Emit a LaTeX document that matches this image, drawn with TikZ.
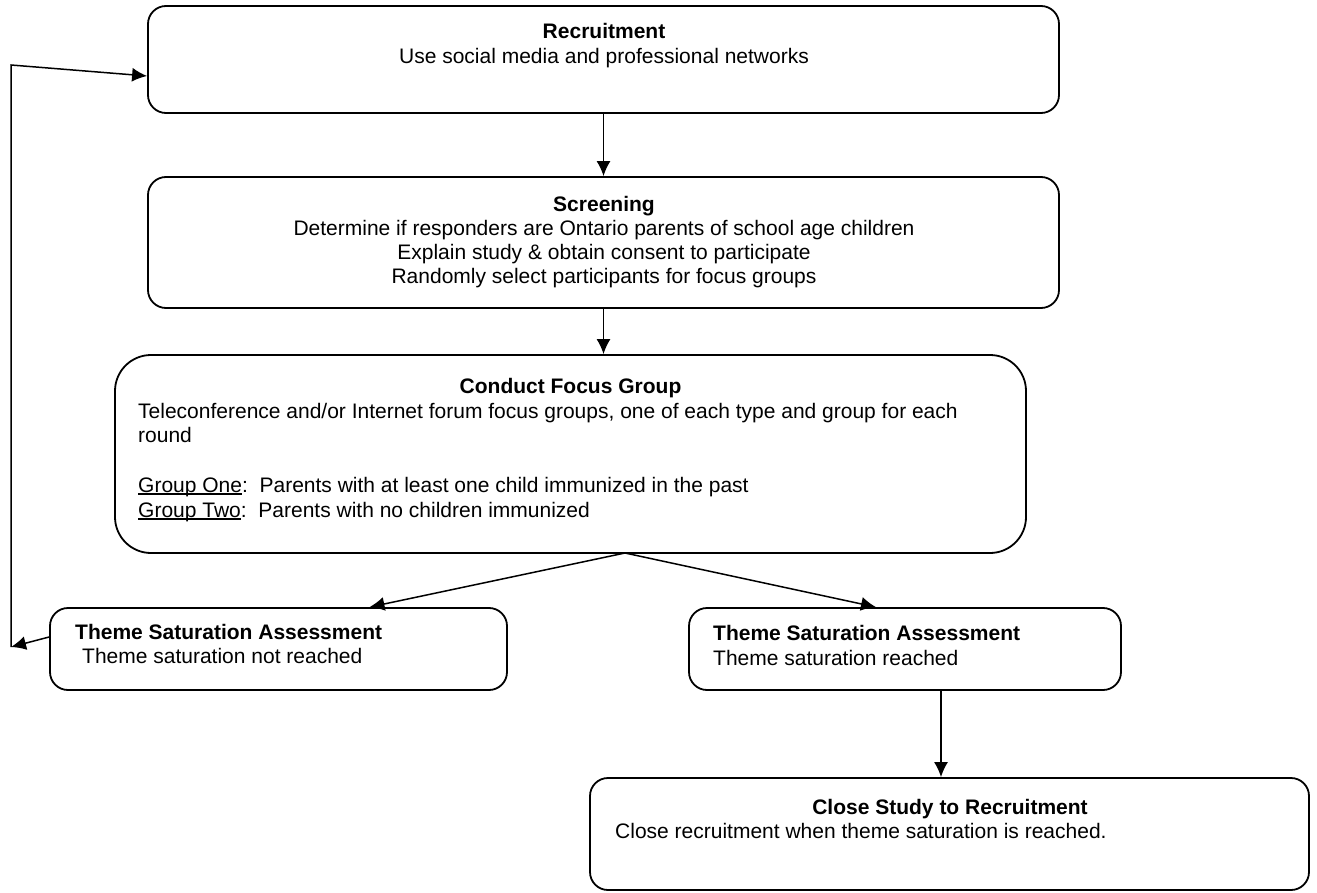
\documentclass[tikz,border=0pt]{standalone}
\usepackage{fontspec}
\setmainfont{Liberation Sans}
\usetikzlibrary{arrows.meta, positioning}

\newcommand{\grpline}[1]{\setbox0\hbox{#1}\rlap{\rule[-2.5pt]{\wd0}{1.2pt}}\box0}

\tikzset{
    box/.style={draw, line width=1.8pt, rounded corners=18pt, inner sep=0pt},
    txt/.style={inner sep=0pt, font=\fontsize{21pt}{24pt}\selectfont},
    hd/.style={inner sep=0pt, font=\fontsize{21pt}{24pt}\selectfont\bfseries},
    conn/.style={->, line width=1.5pt}
}

\begin{document}
\begin{tikzpicture}[x=1pt, y=-1pt, >={Latex[length=15pt,width=14pt]}]
    \useasboundingbox (0,0) rectangle (1317,893);

    % 1. Khung
    \node[box, minimum width=911pt, minimum height=107pt] (rec) at (603.5,59.5) {};
    \node[box, minimum width=911pt, minimum height=131pt] (scr) at (603.5,242.5) {};
    \node[box, rounded corners=36pt, minimum width=911pt, minimum height=198pt] (foc) at (570.5,454) {};
    \node[box, minimum width=457pt, minimum height=82pt] (tsaL) at (278.5,649) {};
    \node[box, minimum width=432pt, minimum height=82pt] (tsaR) at (905,649) {};
    \node[box, minimum width=719pt, minimum height=112pt] (close) at (949.5,834) {};

    % 2. Chữ
    \node[hd, anchor=base] (recT) at (604,39) {Recruitment};
    \node[txt, anchor=base] (recL) at (604,64) {Use social media and professional networks};

    \node[hd, anchor=base] (scrT) at (604,212) {Screening};
    \foreach \txt [count=\i] in {Determine if responders are Ontario parents of school age children,
        Explain study \& obtain consent to participate,
        Randomly select participants for focus groups} {
        \node[txt, anchor=base] (scr\i) at (604,{212+24*\i}) {\txt};
    }

    \node[hd, anchor=base] (focT) at (570.5,393) {Conduct Focus Group};
    \node[txt, anchor=base west] (foc1) at (138,418) {Teleconference and/or Internet forum focus groups, one of each type and group for each};
    \node[txt, anchor=base west] (foc2) at (138,442) {round};
    \node[txt, anchor=base west] (foc3) at (138,492) {\grpline{Group One}:\ \ Parents with at least one child immunized in the past};
    \node[txt, anchor=base west] (foc4) at (138,517) {\grpline{Group Two}:\ \ Parents with no children immunized};

    \node[hd, anchor=base west] (tsaLT) at (75,639) {Theme Saturation Assessment};
    \node[txt, anchor=base west] (tsaLL) at (82,663) {Theme saturation not reached};
    \node[hd, anchor=base west] (tsaRT) at (713,640) {Theme Saturation Assessment};
    \node[txt, anchor=base west] (tsaRL) at (713,665) {Theme saturation reached};

    \node[hd, anchor=base] (closeT) at (950,814) {Close Study to Recruitment};
    \node[txt, anchor=base west] (closeL) at (615,838) {Close recruitment when theme saturation is reached.};

    % 3. Mũi tên
    \coordinate (split) at (625,553);
    \coordinate (loopB) at (11,647);
    \coordinate (loopT) at (11,65);
    \draw[conn] (rec) -- (scr);
    \draw[conn] (scr.south) -- (scr.south |- foc.north);
    \draw[conn] (split) -- ([xshift=91pt]tsaL.north);
    \draw[conn] (split) -- ([xshift=-29pt]tsaR.north);
    \draw[conn] ([xshift=36pt]tsaR.south) -- ([xshift=36pt]tsaR.south |- close.north);
    \draw[conn] ([yshift=12pt]tsaL.west) -- (loopB);
    \draw[conn] (loopB) -- (loopT) -- ([yshift=-16.5pt]rec.west);
\end{tikzpicture}
\end{document}
